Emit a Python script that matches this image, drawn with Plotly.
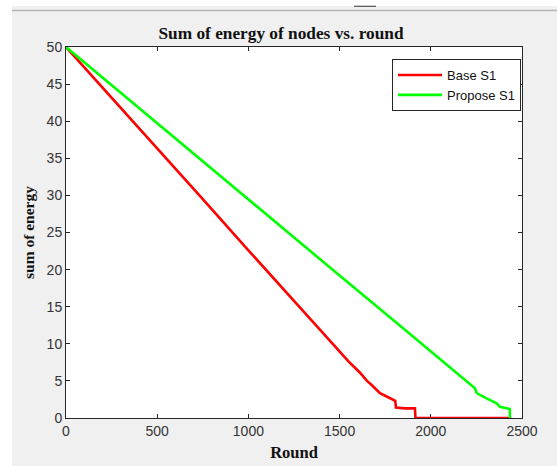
import plotly.graph_objects as go

# Data
base_rounds = [0, 250, 500, 750, 1000, 1250, 1400, 1550, 1612, 1650, 1676, 1700,
               1721, 1750, 1776, 1800, 1805, 1809, 1860, 1913, 1916, 2434]
base_energy = [50, 43.2, 36.3, 29.5, 22.6, 15.8, 11.7, 7.6, 6.1, 5.0, 4.45, 3.8,
               3.35, 3.0, 2.65, 2.3, 2.3, 1.4, 1.3, 1.3, 0, 0]

prop_rounds = [0, 500, 1000, 1500, 1858, 2000, 2160, 2242, 2248, 2252, 2306,
               2361, 2379, 2425, 2433, 2434]
prop_energy = [50, 39.7, 29.5, 19.2, 11.9, 9.0, 5.8, 4.0, 3.6, 3.35, 2.65,
               1.98, 1.52, 1.3, 1.2, 0]

series_names = ["Base S1", "Propose S1"]
x_ticks = [0, 500, 1000, 1500, 2000, 2500]
y_ticks = [0, 5, 10, 15, 20, 25, 30, 35, 40, 45, 50]

title_text = "Sum of energy of nodes vs. round"
x_title = "Round"
y_title = "sum of energy"

W, H = 557, 466
L, R, T, B = 66, 35, 47, 48
pw, ph = W - L - R, H - T - B


def px_x(p):
    return (p - L) / pw


def px_y(p):
    return (H - B - p) / ph


fig = go.Figure()
fig.add_trace(go.Scatter(x=base_rounds, y=base_energy, mode="lines",
                         name=series_names[0],
                         line=dict(color="#ff0000", width=2.6),
                         cliponaxis=False))
fig.add_trace(go.Scatter(x=prop_rounds, y=prop_energy, mode="lines",
                         name=series_names[1],
                         line=dict(color="#00ff00", width=2.6),
                         cliponaxis=False))

tick_font = dict(family="Liberation Sans, Arial, sans-serif", size=14, color="#333333")
serif = "Liberation Serif, serif"

axis_common = dict(
    showgrid=False, zeroline=False, showline=True, linecolor="#262626",
    linewidth=1, mirror="ticks", ticks="inside", ticklen=4,
    tickcolor="#262626", tickfont=tick_font, automargin=False,
    layer="below traces",
)

fig.update_layout(
    width=W, height=H,
    margin=dict(l=L, r=R, t=T, b=B),
    paper_bgcolor="#f0f0f0", plot_bgcolor="white",
    title=dict(text="<b>" + title_text + "</b>", x=px_x(281), xref="paper",
               xanchor="center", y=1 - 33 / H, yanchor="middle",
               font=dict(family=serif, size=17.3, color="#111111")),
    xaxis=dict(range=[0, 2500], tickvals=x_ticks, **axis_common,
               title=dict(text="<b>" + x_title + "</b>",
                          font=dict(family=serif, size=16.5, color="#111111"),
                          standoff=8)),
    yaxis=dict(range=[0, 50], tickvals=y_ticks, **axis_common,
               title=dict(text="<b>" + y_title + "</b>",
                          font=dict(family=serif, size=15.5, color="#111111"),
                          standoff=8)),
    legend=dict(x=px_x(392), y=px_y(59), xanchor="left", yanchor="top",
                bgcolor="white", bordercolor="#262626", borderwidth=1,
                font=dict(family="Liberation Sans, Arial, sans-serif", size=13,
                          color="#111111"),
                tracegroupgap=0, itemwidth=44),
    showlegend=True,
    shapes=[
        # white strip left
        dict(type="rect", xref="paper", yref="paper", x0=px_x(-5), x1=px_x(12),
             y0=px_y(470), y1=px_y(-5), fillcolor="white", line=dict(width=0)),
        # white strip top
        dict(type="rect", xref="paper", yref="paper", x0=px_x(12), x1=px_x(560),
             y0=px_y(6), y1=px_y(-5), fillcolor="white", line=dict(width=0)),
        # window separator line
        dict(type="line", xref="paper", yref="paper", x0=px_x(12), x1=px_x(560),
             y0=px_y(10.5), y1=px_y(10.5), line=dict(color="#b4b4b4", width=1.5)),
        dict(type="line", xref="paper", yref="paper", x0=px_x(354), x1=px_x(376),
             y0=px_y(6.3), y1=px_y(6.3), line=dict(color="#505050", width=1.2)),
    ],
)

fig.write_html("out.html", config={"displayModeBar": False},
               post_script="document.body.style.margin='0';document.body.style.overflow='hidden';")
